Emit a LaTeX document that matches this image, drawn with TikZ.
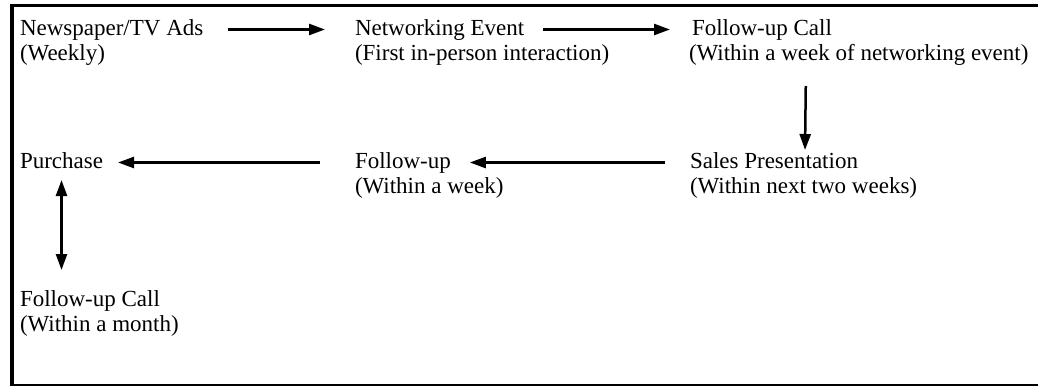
\documentclass[tikz,border=0pt]{standalone}
\usepackage{fontspec}
\setmainfont{Liberation Serif}
\usetikzlibrary{arrows.meta,positioning}

\begin{document}
\begin{tikzpicture}[x=1pt,y=-1pt,>={Triangle[length=16pt,width=11pt]}]
\tikzstyle{stage}=[inner sep=0pt,outer sep=0pt,anchor=base west,
	font=\fontsize{23}{27}\selectfont,text height=16pt,text depth=5pt]
\tikzstyle{note}=[stage,anchor=north west]
\tikzstyle{flow}=[line width=2.5pt,->]
\useasboundingbox (0,0) rectangle (1038,386);
% frame
\draw[line width=3.5pt] (1038,5.5) -- (12,5.5) -- (12,386);
\draw[line width=1.5pt] (12,385.2) -- (1038,385.2);
% stages
\node[stage] (ads) at (20,35) {Newspaper/TV Ads};
\node[below=4pt of ads.south west,note] (adsnote) {(Weekly)};
\node[stage] (event) at (355,35) {Networking Event};
\node[below=4pt of event.south west,note] (eventnote) {(First in-person interaction)};
\node[stage] (call) at (692,35) {Follow-up Call};
\node[below=4pt of call.south west,note,xshift=-3pt] (callnote) {(Within a week of networking event)};
\node[stage] (pres) at (690,168) {Sales Presentation};
\node[below=4pt of pres.south west,note] (presnote) {(Within next two weeks)};
\node[stage] (fup) at (355,168) {Follow-up};
\node[below=4pt of fup.south west,note] (fupnote) {(Within a week)};
\node[stage] (buy) at (20,168) {Purchase};
\node[stage] (call2) at (20,306) {Follow-up Call};
\node[below=4pt of call2.south west,note] (call2note) {(Within a month)};
% flow
\draw[flow,shorten <=25pt,shorten >=30pt] (ads) -- (event);
\draw[flow,shorten <=19pt,shorten >=22pt] (event) -- (call);
\draw[flow,shorten <=21pt,shorten >=2pt] ([xshift=117pt]callnote.south west) -- ([xshift=115pt]pres.north west);
\draw[flow,shorten <=25pt,shorten >=19pt] (pres) -- (fup);
\draw[flow,shorten <=35pt,shorten >=15pt] (fup) -- (buy);
\draw[flow,<->,shorten <=7pt,shorten >=20pt] (buy.south) -- (buy.south |- call2.north);

\end{tikzpicture}
\end{document}
